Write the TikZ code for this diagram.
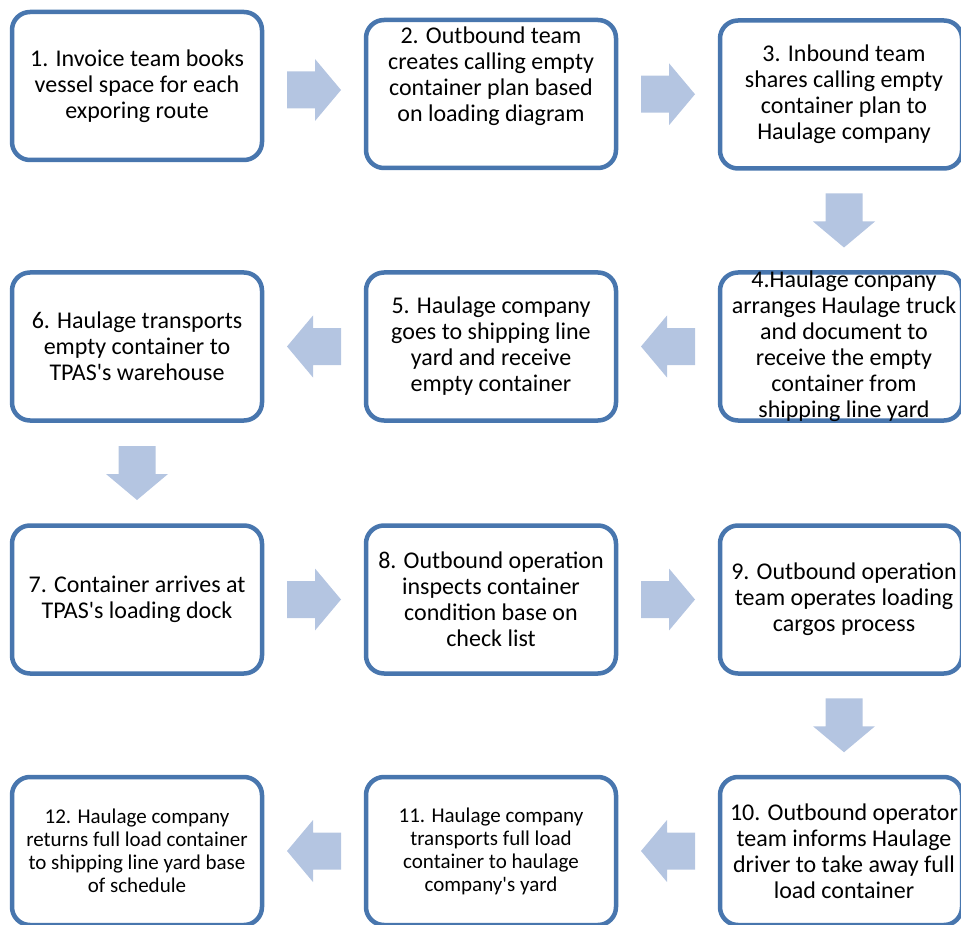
\documentclass[tikz,border=0pt]{standalone}
\usepackage{fontspec}
\setmainfont{Carlito}
\usetikzlibrary{calc}

\definecolor{boxline}{RGB}{72,118,174}
\definecolor{arrowfill}{RGB}{180,197,225}
\newcommand{\apos}{\textquotesingle}

\tikzset{
  stepbox/.style={draw=boxline, line width=4.5pt, rounded corners=18pt,
    fill=white, minimum width=250pt, minimum height=148pt, inner sep=0pt, outer sep=0pt},
  edgebox/.style={stepbox, minimum width=242pt},
  steptext/.style={align=center, inner sep=0pt, text=black,
    font=\fontsize{24}{26}\selectfont},
  smalltext/.style={steptext, font=\fontsize{21}{23}\selectfont},
  barrow/.pic={
    \fill[arrowfill] (-27,-18.5) -- (1,-18.5) -- (1,-31) -- (27,0) -- (1,31)
      -- (1,18.5) -- (-27,18.5) -- cycle;
  }
}

\begin{document}
\begin{tikzpicture}[x=1pt, y=-1pt]
\useasboundingbox (0,0) rectangle (961,925);
\clip (0,0) rectangle (961,925);

% process boxes
\node[stepbox] (b1)  at (137,86)    {};
\node[stepbox] (b2)  at (491,94)    {};
\node[edgebox] (b3)  at (841,94.5)  {};
\node[edgebox] (b4)  at (841,346.5) {};
\node[stepbox] (b5)  at (491,346.5) {};
\node[stepbox] (b6)  at (137,346.5) {};
\node[stepbox] (b7)  at (137,599.5) {};
\node[stepbox] (b8)  at (491,599.5) {};
\node[edgebox] (b9)  at (841,599.5) {};
\node[edgebox] (b10) at (841,851)   {};
\node[stepbox] (b11) at (491,851)   {};
\node[stepbox] (b12) at (137,851)   {};

% step descriptions
\node[steptext] (t1) at (b1) {1. Invoice team books\\vessel space for each\\exporing route};
\node[steptext] (t2) at ([yshift=18pt]b2.center) {2. Outbound team\\creates calling empty\\container plan based\\on loading diagram};
\node[steptext] (t3) at ([xshift=3pt]b3.center) {3. Inbound team\\shares calling empty\\container plan to\\Haulage company};
\node[steptext] (t4) at ([xshift=3pt]b4.center) {4.Haulage conpany\\arranges Haulage truck\\and document to\\receive the empty\\container from\\shipping line yard};
\node[steptext] (t5) at (b5) {5. Haulage company\\goes to shipping line\\yard and receive\\empty container};
\node[steptext] (t6) at (b6) {6. Haulage transports\\empty container to\\TPAS\apos s warehouse};
\node[steptext] (t7) at (b7) {7. Container arrives at\\TPAS\apos s loading dock};
\node[steptext] (t8) at (b8) {8. Outbound operation\\inspects container\\condition base on\\check list};
\node[steptext] (t9) at ([xshift=3pt]b9.center) {9. Outbound operation\\team operates loading\\cargos process};
\node[steptext] (t10) at ([xshift=3pt]b10.center) {10. Outbound operator\\team informs Haulage\\driver to take away full\\load container};
\node[smalltext] (t11) at (b11) {11. Haulage company\\transports full load\\container to haulage\\company\apos s yard};
\node[smalltext] (t12) at (b12) {12. Haulage company\\returns full load container\\to shipping line yard base\\of schedule};

% block arrows between consecutive steps
\pic (a1)  at ($(b1.east)!0.5!(b2.west)$) {barrow};
\pic (a2)  at ($(b2.east)!0.5!(b3.west)$) {barrow};
\pic[rotate=-90] (a3) at ($(b3.south)!0.5!(b4.north) + (3,0)$) {barrow};
\pic[rotate=180] (a4) at ($(b4.west)!0.5!(b5.east)$) {barrow};
\pic[rotate=180] (a5) at ($(b5.west)!0.5!(b6.east)$) {barrow};
\pic[rotate=-90] (a6) at ($(b6.south)!0.5!(b7.north)$) {barrow};
\pic (a7)  at ($(b7.east)!0.5!(b8.west)$) {barrow};
\pic (a8)  at ($(b8.east)!0.5!(b9.west)$) {barrow};
\pic[rotate=-90] (a9) at ($(b9.south)!0.5!(b10.north) + (3,0)$) {barrow};
\pic[rotate=180] (a10) at ($(b10.west)!0.5!(b11.east)$) {barrow};
\pic[rotate=180] (a11) at ($(b11.west)!0.5!(b12.east)$) {barrow};
\end{tikzpicture}
\end{document}
